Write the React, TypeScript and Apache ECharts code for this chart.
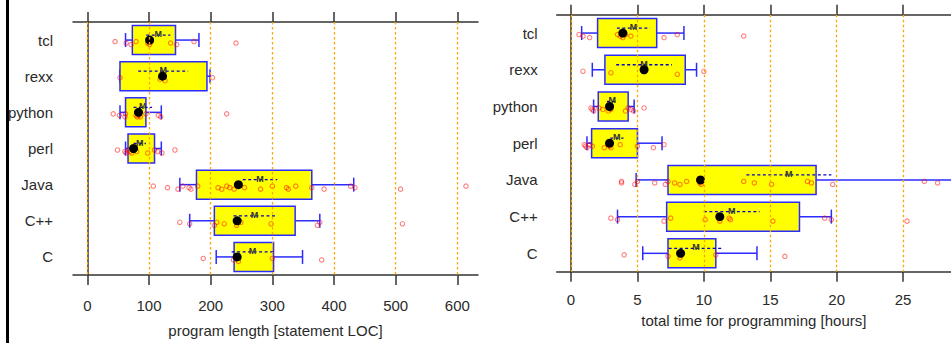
import React, { useEffect, useRef } from "react";
import * as echarts from "echarts";

// ---------- data ----------
const categories = ["tcl", "rexx", "python", "perl", "Java", "C++", "C"];

const locTicks = [0, 100, 200, 300, 400, 500, 600];
const timeTicks = [0, 5, 10, 15, 20, 25];

// box statistics: [whiskerLow, q1, median, q3, whiskerHigh, mean, stdErr]
const locStats = [
  [62, 73, 101, 143, 181, 115, 19.5],
  [53, 53, 122, 194, 199, 123, 40.5],
  [53, 62, 83, 95, 120, 90, 15],
  [62, 66, 75, 109, 120, 85, 10],
  [150, 177, 245, 364, 432, 280, 28],
  [166, 206, 243, 337, 377, 271, 34],
  [209, 238, 243, 302, 349, 268, 34],
];

const timeStats = [
  [0.8, 2.0, 3.9, 6.45, 8.5, 4.7, 1.25],
  [1.6, 2.55, 5.5, 8.6, 9.45, 5.5, 2.1],
  [1.7, 2.05, 2.9, 4.3, 4.75, 3.1, 0.4],
  [1.2, 1.55, 2.9, 5.0, 6.85, 3.45, 0.5],
  [4.9, 7.3, 9.75, 18.45, 40, 16.4, 3.2],
  [3.5, 7.2, 11.2, 17.2, 19.6, 12.1, 2.1],
  [5.4, 7.3, 8.25, 10.9, 14.0, 9.4, 2.05],
];

// individual observations
const locPoints = [
  [45, 63, 71, 79, 98, 101, 104, 135, 145, 173, 241],
  [53, 118, 126, 203],
  [42, 52, 61, 62, 79, 81, 83, 84, 86, 95, 115, 119, 226],
  [49, 61, 63, 66, 69, 72, 75, 80, 98, 109, 114, 121, 142],
  [107, 130, 147, 155, 165, 168, 179, 212, 218, 226, 231, 238, 244, 255, 281, 300, 323, 326, 338, 364, 384, 427, 434, 508, 614],
  [150, 166, 206, 210, 222, 242, 249, 298, 373, 377, 511],
  [188, 237, 245, 300, 380],
];

const timePoints = [
  [0.6, 0.9, 1.4, 3.5, 3.7, 3.9, 4.1, 4.5, 7.0, 8.0, 13.0],
  [0.9, 3.0, 8.0, 10.0],
  [1.5, 1.6, 1.7, 2.1, 2.4, 2.8, 2.9, 3.0, 4.1, 4.3, 4.5, 4.7, 5.5],
  [1.0, 1.1, 1.2, 1.4, 1.6, 2.5, 2.8, 2.9, 3.0, 3.7, 5.0, 6.2, 7.0],
  [3.8, 3.8, 4.8, 5.0, 6.3, 7.1, 7.3, 7.8, 8.2, 8.7, 9.7, 9.8, 13.0, 13.8, 15.1, 17.8, 18.1, 19.7, 26.6, 27.6],
  [3.0, 3.5, 7.0, 7.5, 10.1, 11.2, 11.9, 12.0, 15.2, 19.1, 19.6, 25.3],
  [4.0, 7.3, 8.2, 10.9, 16.1],
];

const locTitle = "program length [statement LOC]";
const timeTitle = "total time for programming [hours]";

// ---------- styles ----------
const FONT = "'Liberation Sans', Arial, sans-serif";
const TXT = "#2a2a2a";
const FRAME = "#333";
const BOX_FILL = "#ffff00";
const BOX_STROKE = "#2b2bff";
const MEAN_LINE = "#0000c8";
const GRID_LINE = "#ffa500";
const POINT = "rgba(255,0,0,0.5)";

function renderBox(params: any, api: any) {
  const cat = api.value(7);
  const cs = params.coordSys;
  const yc = api.coord([0, cat])[1];
  const clamp = (x: number) => Math.max(cs.x, Math.min(cs.x + cs.width, x));
  const X = (v: number) => clamp(api.coord([v, cat])[0]);
  const rawHi = api.coord([api.value(4), cat])[0];
  const wLo = X(api.value(0));
  const q1 = X(api.value(1));
  const q3 = X(api.value(3));
  const wHi = X(api.value(4));
  const mean = api.value(5);
  const se = api.value(6);
  const hh = 14.5;
  const cap = 7;
  const ls = { stroke: BOX_STROKE, lineWidth: 1.5 };
  const children: any[] = [
    { type: "line", shape: { x1: wLo, y1: yc, x2: q1, y2: yc }, style: ls },
    { type: "line", shape: { x1: q3, y1: yc, x2: wHi, y2: yc }, style: ls },
    { type: "line", shape: { x1: wLo, y1: yc - cap, x2: wLo, y2: yc + cap }, style: ls },
  ];
  if (rawHi <= cs.x + cs.width) {
    children.push({ type: "line", shape: { x1: wHi, y1: yc - cap, x2: wHi, y2: yc + cap }, style: ls });
  }
  children.push({
    type: "rect",
    shape: { x: q1, y: yc - hh, width: q3 - q1, height: 2 * hh },
    style: { fill: BOX_FILL, stroke: BOX_STROKE, lineWidth: 1.5 },
  });
  children.push({
    type: "line",
    shape: { x1: X(mean - se), y1: yc - 5, x2: X(mean + se), y2: yc - 5 },
    style: { stroke: MEAN_LINE, lineWidth: 1.3, lineDash: [3, 2.5] },
  });
  children.push({
    type: "text",
    x: X(mean),
    y: yc - 6,
    style: {
      text: "M",
      fill: "#333",
      font: `bold 9px ${FONT}`,
      align: "center",
      verticalAlign: "middle",
    },
  });
  return { type: "group", children };
}

function renderPoint(params: any, api: any) {
  const cat = api.value(1);
  const j = api.value(2);
  const p = api.coord([api.value(0), cat]);
  const cs = params.coordSys;
  if (p[0] < cs.x || p[0] > cs.x + cs.width) return null;
  const jitter = ((j % 3) - 1) * 1.5;
  return {
    type: "circle",
    shape: { cx: p[0], cy: p[1] + 3 + jitter, r: 2.2 },
    style: { fill: "none", stroke: POINT, lineWidth: 1.1 },
  };
}

function renderMedian(params: any, api: any) {
  const p = api.coord([api.value(0), api.value(1)]);
  return {
    type: "circle",
    shape: { cx: p[0], cy: p[1], r: 4.5 },
    style: { fill: "#000" },
  };
}

function panelSeries(stats: number[][], points: number[][], ticks: number[], xi: number, yi: number) {
  const boxData = stats.map((s, i) => [...s, i]);
  const ptData: number[][] = [];
  points.forEach((arr, i) => arr.forEach((v, k) => ptData.push([v, i, k])));
  const medData = stats.map((s, i) => [s[2], i]);
  return [
    {
      type: "custom",
      xAxisIndex: xi,
      yAxisIndex: yi,
      z: 1,
      silent: true,
      data: [[ticks[0], 0]],
      encode: { x: 0, y: 1 },
      renderItem: () => null,
      markLine: {
        silent: true,
        symbol: "none",
        label: { show: false },
        lineStyle: { color: GRID_LINE, width: 1.3, type: [2.5, 2.5] },
        data: ticks.map((t) => ({ xAxis: t })),
      },
    },
    {
      type: "custom",
      xAxisIndex: xi,
      yAxisIndex: yi,
      z: 2,
      silent: true,
      data: boxData,
      encode: { x: [0, 1, 2, 3, 4], y: 7 },
      renderItem: renderBox,
    },
    {
      type: "custom",
      xAxisIndex: xi,
      yAxisIndex: yi,
      z: 3,
      silent: true,
      data: ptData,
      encode: { x: 0, y: 1 },
      renderItem: renderPoint,
    },
    {
      type: "custom",
      xAxisIndex: xi,
      yAxisIndex: yi,
      z: 4,
      silent: true,
      data: medData,
      encode: { x: 0, y: 1 },
      renderItem: renderMedian,
    },
  ];
}

function xAxes(gridIndex: number, min: number, max: number, ticks: number[], title: string, labelMargin: number, nameGap: number) {
  const line = { show: true, lineStyle: { color: FRAME, width: 1.5 } };
  const tick = { show: true, inside: false, length: 10, customValues: ticks, lineStyle: { color: FRAME, width: 1.5 } };
  return [
    {
      type: "value",
      gridIndex,
      position: "bottom",
      min,
      max,
      axisLine: line,
      axisTick: tick,
      splitLine: { show: false },
      axisLabel: {
        customValues: ticks,
        color: TXT,
        fontSize: 15,
        fontFamily: FONT,
        margin: labelMargin,
      },
      name: title,
      nameLocation: "middle",
      nameGap,
      nameTextStyle: { color: TXT, fontSize: 15, fontFamily: FONT },
    },
    {
      type: "value",
      gridIndex,
      position: "top",
      min,
      max,
      axisLine: line,
      axisTick: tick,
      splitLine: { show: false },
      axisLabel: { show: false, customValues: ticks },
    },
  ];
}

function yAxis(gridIndex: number, margin: number) {
  return {
    type: "category",
    gridIndex,
    data: categories,
    inverse: true,
    axisLine: { show: true, lineStyle: { color: FRAME, width: 1.5 } },
    axisTick: { show: false },
    splitLine: { show: false },
    axisLabel: { color: TXT, fontSize: 15, fontFamily: FONT, margin },
  };
}

export default function App() {
  const ref = useRef<HTMLDivElement>(null);
  useEffect(() => {
    if (!ref.current) return;
    const chart = echarts.init(ref.current, null, { renderer: "svg" });
    const option: any = {
      animation: false,
      backgroundColor: "#fff",
      textStyle: { fontFamily: FONT },
      grid: [
        { left: 73, top: 22, width: 405, height: 260 },
        { left: 556.7, top: 14.7, width: 394.3, height: 257 },
      ],
      xAxis: [
        ...xAxes(0, -23.2, 633.5, locTicks, locTitle, 23, 48),
        ...xAxes(1, -1.08, 28.61, timeTicks, timeTitle, 20, 41),
      ],
      yAxis: [yAxis(0, 20), yAxis(1, 19)],
      graphic: [
        {
          type: "rect",
          shape: { x: 6, y: 0, width: 3, height: 343 },
          style: { fill: "#000" },
          silent: true,
        },
      ],
      series: [
        ...panelSeries(locStats, locPoints, locTicks, 0, 0),
        ...panelSeries(timeStats, timePoints, timeTicks, 2, 1),
      ],
    };
    chart.setOption(option);
    return () => chart.dispose();
  }, []);
  return (
    <div
      ref={ref}
      style={{ position: "fixed", left: 0, top: 0, width: 951, height: 343 }}
    />
  );
}
